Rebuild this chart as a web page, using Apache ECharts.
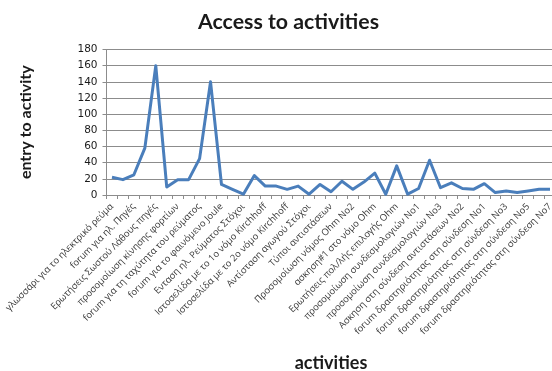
<!DOCTYPE html>
<html>
<head>
<meta charset="utf-8">
<script src="https://cdn.jsdelivr.net/npm/echarts@6/dist/echarts.min.js"></script>
<style>
  html, body { margin: 0; padding: 0; background: #fff; }
  #chart { width: 552px; height: 371px; }
</style>
</head>
<body>
<div id="chart"></div>
<script>
// Activities of the course (every second one carries a visible label)
var activities = [
  'γλωσσάρι για το ηλεκτρικό ρεύμα', '',
  'forum για ηλ. Πηγές', '',
  'Ερωτήσεις Σωστού Λάθους πηγές', '',
  'προσομοίωση κίνησης φορτίων', '',
  'forum για τη ταχύτητα του ρεύματος', '',
  'forum για το φαινόμενο Joule', '',
  'Ενταση ηλ. Ρεύματος Στόχοι', '',
  'Ιστοσελίδα με το 1ο νόμο Kirchhoff', '',
  'Ιστοσελίδα με το 2ο νόμο Kirchhoff', '',
  'Αντίσταση αγωγού Στόχοι', '',
  'Τύποι αντιστάσεων', '',
  'Προσομοίωση νόμος Ohm No2', '',
  'ασκηση#1 στο νόμο Ohm', '',
  'Ερωτήσεις πολ/λής επιλογής Ohm', '',
  'προσομοίωση συνδεσμολογιών No1', '',
  'προσομοίωση συνδεσμολογιών No3', '',
  'Ασκηση στη σύνδεση αντιστάσεων No2', '',
  'forum δραστηριότητας στη σύνδεση No1', '',
  'forum δραστηριότητας στη σύνδεση No3', '',
  'forum δραστηριότητας στη σύνδεση No5', '',
  'forum δραστηριότητας στη σύνδεση No7'
];

// Number of entries per activity
var entries = [
  22, 19, 25, 58, 160, 10, 19, 19, 45, 140,
  13, 7, 1, 24, 11, 11, 7, 11, 1, 13,
  4, 17, 7, 16, 27, 1, 36, 1, 8, 43,
  9, 15, 8, 7, 14, 3, 5, 3, 5, 7,
  7
];

// Value axis ticks
var yMin = 0, yMax = 180, yStep = 20;

var chart = echarts.init(document.getElementById('chart'), null, { renderer: 'canvas' });

var gridColor = '#8c8c8c';

chart.setOption({
  animation: false,
  backgroundColor: '#ffffff',
  title: {
    text: 'Access to activities',
    left: 193,
    top: 7,
    textStyle: {
      fontFamily: 'Lato, "Open Sans", sans-serif',
      fontWeight: 'bold',
      fontSize: 21.3,
      color: '#1a1a1a'
    }
  },
  grid: {
    left: 106.5,
    right: -3.5,
    top: 49.5,
    bottom: 176,
    containLabel: false,
    outerBoundsMode: 'none'
  },
  xAxis: {
    type: 'category',
    data: activities,
    boundaryGap: true,
    name: 'activities',
    nameLocation: 'middle',
    nameGap: 159,
    nameTextStyle: {
      fontFamily: 'Lato, "Open Sans", sans-serif',
      fontWeight: 'bold',
      fontSize: 18,
      color: '#1a1a1a'
    },
    axisLine: { lineStyle: { color: gridColor, width: 1 } },
    axisTick: { show: true, interval: 0, length: 4, lineStyle: { color: gridColor } },
    axisLabel: {
      interval: 1,
      rotate: 45,
      margin: 10,
      fontFamily: '"Open Sans", "Noto Sans", sans-serif',
      fontSize: 9.4,
      color: '#3a3a3a'
    },
    splitLine: { show: false }
  },
  yAxis: {
    type: 'value',
    min: yMin,
    max: yMax,
    interval: yStep,
    name: 'entry to activity',
    nameLocation: 'middle',
    nameGap: 73,
    nameTextStyle: {
      fontFamily: 'Lato, "Open Sans", sans-serif',
      fontWeight: 'bold',
      fontSize: 16,
      color: '#1a1a1a'
    },
    axisLine: { show: true, lineStyle: { color: gridColor, width: 1 } },
    axisTick: { show: true, length: 4, lineStyle: { color: gridColor } },
    axisLabel: {
      margin: 9,
      fontFamily: '"DejaVu Sans", Verdana, sans-serif',
      fontSize: 10.5,
      color: '#1a1a1a'
    },
    splitLine: { show: true, lineStyle: { color: gridColor, width: 1 } }
  },
  series: [{
    type: 'line',
    data: entries,
    symbol: 'none',
    smooth: false,
    lineStyle: { color: '#4a7ebb', width: 3, join: 'round' },
    itemStyle: { color: '#4a7ebb' }
  }]
});
</script>
</body>
</html>
